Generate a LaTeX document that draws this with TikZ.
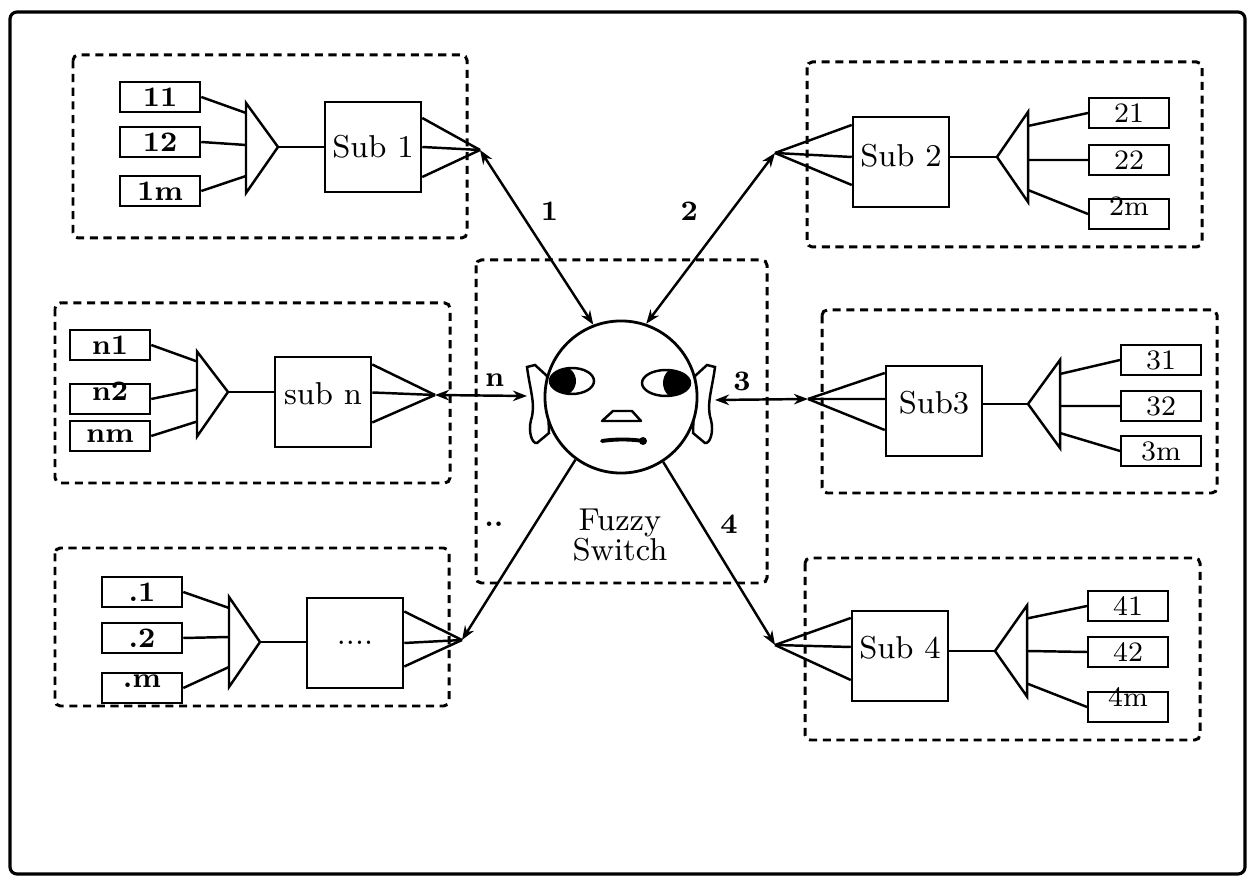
\documentclass[tikz,border=0pt]{standalone}
\usetikzlibrary{arrows.meta,positioning}

\begin{document}
\begin{tikzpicture}[x=0.01cm, y=-0.01cm,
    frame/.style={draw, dash pattern=on 2.3pt off 1.6pt, line width=0.85pt, rounded corners=1.5pt},
    inbox/.style={draw, line width=0.7pt, minimum width=0.8cm, minimum height=0.3cm, inner sep=0pt, font=\footnotesize\bfseries},
    inbox2/.style={inbox, line width=0.55pt, font=\footnotesize},
    sub/.style={draw, line width=0.7pt, minimum width=0.96cm, minimum height=0.9cm, inner sep=0pt, font=\small},
    wire/.style={line width=0.7pt},
    amp/.style={draw, line width=0.7pt},
    arr/.style={-{Stealth[length=4pt, width=3pt]}, line width=0.7pt},
    biarr/.style={{Stealth[length=4pt, width=3pt]}-{Stealth[length=4pt, width=3pt]}, line width=0.7pt},
    lbl/.style={font=\footnotesize\bfseries, inner sep=1pt},
  ]
  \useasboundingbox (0,0) rectangle (1252,886);
  \draw[line width=0.9pt, rounded corners=2pt] (10,12) rectangle (1245,874);

  % subsystem 1 (top left)
  \draw[frame] (73,55) rectangle (467,238);
  \foreach \t/\y [count=\k] in {11/97, 12/142, 1m/191}
    \node[inbox] (a\k) at (160,\y) {\t};
  \coordinate (ta) at (278,147);
  \coordinate (ba) at (246,148);
  \draw[amp] (ta) -- ([yshift=4.5mm]ba) -- ([yshift=-4.5mm]ba) -- cycle;
  \foreach \k/\s in {1/3.5mm, 2/0.3mm, 3/-2.8mm}
    \draw[wire] (a\k.east) -- ([yshift=\s]ba);
  \node[sub] (s1) at (373,147) {Sub 1};
  \draw[wire] (ta) -- (ta -| s1.west);
  \coordinate (p1) at (480,150);
  \foreach \s in {2.9mm, 0mm, -3mm}
    \draw[wire] ([yshift=\s]s1.east) -- (p1);

  % subsystem 2 (top right)
  \draw[frame] (807,62) rectangle (1202,247);
  \foreach \t/\y/\h [count=\k] in {21/113/5.2pt, 22/160/5.2pt, 2m/214/1pt}
    \node[inbox2, text height=\h] (b\k) at (1129,\y) {\t};
  \coordinate (tb) at (997,157);
  \coordinate (bb) at (1028,157);
  \draw[amp] (tb) -- ([yshift=4.5mm]bb) -- ([yshift=-4.5mm]bb) -- cycle;
  \foreach \k/\s in {1/3.1mm, 2/-0.3mm, 3/-3.3mm}
    \draw[wire] (b\k.west) -- ([yshift=\s]bb);
  \node[sub, text height=3pt] (s2) at (901,162) {Sub 2};
  \draw[wire] (tb) -- (tb -| s2.east);
  \coordinate (p2) at (775,153);
  \foreach \s in {3.7mm, 0.5mm, -2.3mm}
    \draw[wire] ([yshift=\s]s2.west) -- (p2);

  % subsystem 3 (right)
  \draw[frame] (822,310) rectangle (1217,493);
  \foreach \t/\y [count=\k] in {31/360, 32/406, 3m/451}
    \node[inbox2] (c\k) at (1161,\y) {\t};
  \coordinate (tc) at (1028,404);
  \coordinate (bc) at (1060,404);
  \draw[amp] (tc) -- ([yshift=4.4mm]bc) -- ([yshift=-4.4mm]bc) -- cycle;
  \foreach \k/\s in {1/3mm, 2/-0.2mm, 3/-2.9mm}
    \draw[wire] (c\k.west) -- ([yshift=\s]bc);
  \node[sub, text height=1.5pt] (s3) at (934,411) {Sub3};
  \draw[wire] (tc) -- (tc -| s3.east);
  \coordinate (p3) at (808,399);
  \foreach \s in {3.8mm, 1.2mm, -1.9mm}
    \draw[wire] ([yshift=\s]s3.west) -- (p3);

  % subsystem 4 (bottom right)
  \draw[frame] (805,558) rectangle (1200,740);
  \foreach \t/\y/\h [count=\k] in {41/606/5.2pt, 42/652/5.2pt, 4m/707/0pt}
    \node[inbox2, text height=\h] (d\k) at (1128,\y) {\t};
  \coordinate (td) at (995,651);
  \coordinate (bd) at (1027,651);
  \draw[amp] (td) -- ([yshift=4.55mm]bd) -- ([yshift=-4.55mm]bd) -- cycle;
  \foreach \k/\s in {1/3.25mm, 2/0mm, 3/-3.25mm}
    \draw[wire] (d\k.west) -- ([yshift=\s]bd);
  \node[sub, text height=1.5pt] (s4) at (900,656) {Sub 4};
  \draw[wire] (td) -- (td -| s4.east);
  \coordinate (p4) at (775,645);
  \foreach \s in {3.8mm, 0.9mm, -2.4mm}
    \draw[wire] ([yshift=\s]s4.west) -- (p4);

  % subsystem n (left)
  \draw[frame] (55,303) rectangle (450,483);
  \foreach \t/\y/\h [count=\k] in {n1/345/5.2pt, n2/399/1pt, nm/436/3.6pt}
    \node[inbox, text height=\h] (n\k) at (110,\y) {\t};
  \coordinate (tn) at (228,392);
  \coordinate (bn) at (197,394);
  \draw[amp] (tn) -- ([yshift=4.25mm]bn) -- ([yshift=-4.25mm]bn) -- cycle;
  \foreach \k/\s in {1/3.25mm, 2/0.45mm, 3/-2.75mm}
    \draw[wire] (n\k.east) -- ([yshift=\s]bn);
  \node[sub, text height=1.5pt] (sn) at (323,402) {sub n};
  \draw[wire] (tn) -- (tn -| sn.west);
  \coordinate (pn) at (435,395);
  \foreach \s in {3.75mm, 0.95mm, -2.05mm}
    \draw[wire] ([yshift=\s]sn.east) -- (pn);

  % further subsystems (bottom left)
  \draw[frame] (55,548) rectangle (449,706);
  \foreach \t/\y/\h [count=\k] in {.1/592/5.2pt, .2/638/5.2pt, .m/688/0pt}
    \node[inbox, text height=\h] (e\k) at (142,\y) {\t};
  \coordinate (te) at (260,642);
  \coordinate (be) at (229,642);
  \draw[amp] (te) -- ([yshift=4.5mm]be) -- ([yshift=-4.5mm]be) -- cycle;
  \foreach \k/\s in {1/3.4mm, 2/0.5mm, 3/-2.5mm}
    \draw[wire] (e\k.east) -- ([yshift=\s]be);
  \node[sub] (s5) at (355,643) {....};
  \draw[wire] (te) -- (te -| s5.west);
  \coordinate (p5) at (462,640);
  \foreach \s in {3.15mm, 0mm, -2.35mm}
    \draw[wire] ([yshift=\s]s5.east) -- (p5);

  % fuzzy switch with its face
  \draw[frame] (476,260) rectangle (767,583);
  \foreach \sx in {1,-1}
    \draw[wire, fill=white, shift={(621,0)}, xscale=\sx]
      (-74,376) -- (-86,365) -- (-94,367)
      .. controls (-91,390) and (-85,405) .. (-90,420)
      .. controls (-93,432) and (-89,444) .. (-84,443) -- (-72,433) -- cycle;
  \node[circle, draw, fill=white, line width=0.8pt, minimum size=1.52cm, inner sep=0pt] (face) at (621,397) {};
  \coordinate (earl) at (527,396);
  \coordinate (earr) at (715,400);
  \foreach \ex/\ey/\rx/\px/\pr in {572/381/22/561/15, 666/383/24/680/17} {
    \begin{scope}
      \clip (\ex,\ey) ellipse [x radius=\rx, y radius=13];
      \fill (\px,\ey) circle [radius=\pr];
    \end{scope}
    \draw[wire] (\ex,\ey) ellipse [x radius=\rx, y radius=13];
  }
  \draw[wire, line join=round] (602,421) -- (613,411) -- (632,411) -- (641,421) -- cycle;
  \draw[line width=1.1pt, line cap=round] (602,441) .. controls (615,439) and (630,439) .. (643,441);
  \fill (643,441) circle [radius=4];
  \node[font=\small, align=center] (fs) at (620,535) {Fuzzy\\[-2.5pt]Switch};

  % links between the switch and the subsystems
  \draw[biarr] (p1) -- coordinate[pos=0.35] (l1) (face.111);
  \node[lbl, right=0.17cm of l1] {1};
  \draw[biarr] (p2) -- coordinate[pos=0.34] (l2) (face.71);
  \node[lbl, left=0.29cm of l2] {2};
  \draw[biarr] (pn) -- coordinate[pos=0.65] (ln) (earl);
  \node[lbl, above=0.05cm of ln] {n};
  \draw[biarr] (earr) -- coordinate[pos=0.29] (l3) (p3);
  \node[lbl, above=0.05cm of l3] {3};
  \draw[arr] (face.-126) -- coordinate[pos=0.36] (l5) (p5);
  \node[lbl, left=0.27cm of l5] {..};
  \draw[arr] (face.-57) -- coordinate[pos=0.34] (l4) (p4);
  \node[lbl, right=0.15cm of l4] {4};
\end{tikzpicture}
\end{document}
